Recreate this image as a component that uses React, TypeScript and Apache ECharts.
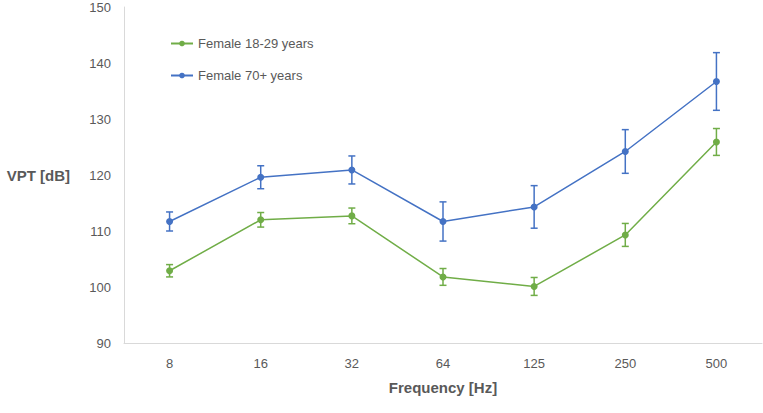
import React, { useEffect, useRef } from "react";
import * as echarts from "echarts";

const categories = ["8", "16", "32", "64", "125", "250", "500"];
const youngMeans = [102.9, 112.0, 112.7, 101.8, 100.1, 109.3, 125.9];
const youngErr = [1.1, 1.3, 1.4, 1.5, 1.6, 2.05, 2.4];
const oldMeans = [111.7, 119.6, 120.9, 111.7, 114.3, 124.2, 136.7];
const oldErr = [1.7, 2.05, 2.5, 3.5, 3.8, 3.9, 5.15];
const yTicks = { min: 90, max: 150, interval: 10 };

const GREEN = "#70AD47";
const BLUE = "#4472C4";
const FONT = "Liberation Sans, Arial, sans-serif";

function errorSeries(name: string, means: number[], errs: number[], color: string) {
  const data = means.map((m, i) => [i, m - errs[i], m + errs[i]]);
  return {
    type: "custom",
    name: name + " err",
    data,
    z: 3,
    silent: true,
    encode: { x: 0, y: [1, 2] },
    renderItem: (params: any, api: any) => {
      const i = api.value(0);
      const lo = api.coord([i, api.value(1)]);
      const hi = api.coord([i, api.value(2)]);
      const cap = 3.5;
      const style = { stroke: color, lineWidth: 1.5 };
      return {
        type: "group",
        children: [
          { type: "line", shape: { x1: lo[0], y1: lo[1], x2: hi[0], y2: hi[1] }, style },
          { type: "line", shape: { x1: lo[0] - cap, y1: lo[1], x2: lo[0] + cap, y2: lo[1] }, style },
          { type: "line", shape: { x1: hi[0] - cap, y1: hi[1], x2: hi[0] + cap, y2: hi[1] }, style },
        ],
      };
    },
  };
}

export default function App() {
  const ref = useRef<HTMLDivElement>(null);
  useEffect(() => {
    if (!ref.current) return;
    const chart = echarts.init(ref.current, null, { renderer: "svg" });
    chart.setOption({
      animation: false,
      textStyle: { fontFamily: FONT },
      grid: { left: 124, right: 1, top: 7, bottom: 70, containLabel: false },
      legend: {
        orient: "vertical",
        left: 165,
        top: 32,
        itemGap: 19,
        itemWidth: 22,
        itemHeight: 7,
        textStyle: { color: "#595959", fontSize: 13, fontFamily: FONT },
        data: ["Female 18-29 years", "Female 70+ years"],
      },
      xAxis: {
        type: "category",
        data: categories,
        boundaryGap: true,
        axisLine: { lineStyle: { color: "#D9D9D9", width: 1 } },
        axisTick: { show: false },
        axisLabel: { color: "#595959", fontSize: 13, margin: 14, fontFamily: FONT },
        name: "Frequency [Hz]",
        nameLocation: "middle",
        nameGap: 37,
        nameTextStyle: { color: "#595959", fontSize: 15, fontWeight: "bold", fontFamily: FONT },
      },
      yAxis: {
        type: "value",
        min: yTicks.min,
        max: yTicks.max,
        interval: yTicks.interval,
        splitLine: { show: false },
        axisLine: { show: true, lineStyle: { color: "#D9D9D9", width: 1 } },
        axisTick: { show: false },
        axisLabel: { color: "#595959", fontSize: 13, margin: 13, fontFamily: FONT },
        name: "VPT [dB]",
        nameLocation: "middle",
        nameRotate: 0,
        nameGap: 54,
        nameTextStyle: { color: "#595959", fontSize: 15, fontWeight: "bold", fontFamily: FONT },
      },
      series: [
        {
          type: "line",
          name: "Female 18-29 years",
          data: youngMeans,
          symbol: "circle",
          symbolSize: 7,
          itemStyle: { color: GREEN },
          lineStyle: { color: GREEN, width: 1.5 },
          z: 4,
        },
        {
          type: "line",
          name: "Female 70+ years",
          data: oldMeans,
          symbol: "circle",
          symbolSize: 7,
          itemStyle: { color: BLUE },
          lineStyle: { color: BLUE, width: 1.5 },
          z: 4,
        },
        errorSeries("Female 18-29 years", youngMeans, youngErr, GREEN),
        errorSeries("Female 70+ years", oldMeans, oldErr, BLUE),
      ],
    });
    return () => chart.dispose();
  }, []);
  return <div ref={ref} style={{ width: 763, height: 413, position: "absolute", left: 0, top: 0 }} />;
}
